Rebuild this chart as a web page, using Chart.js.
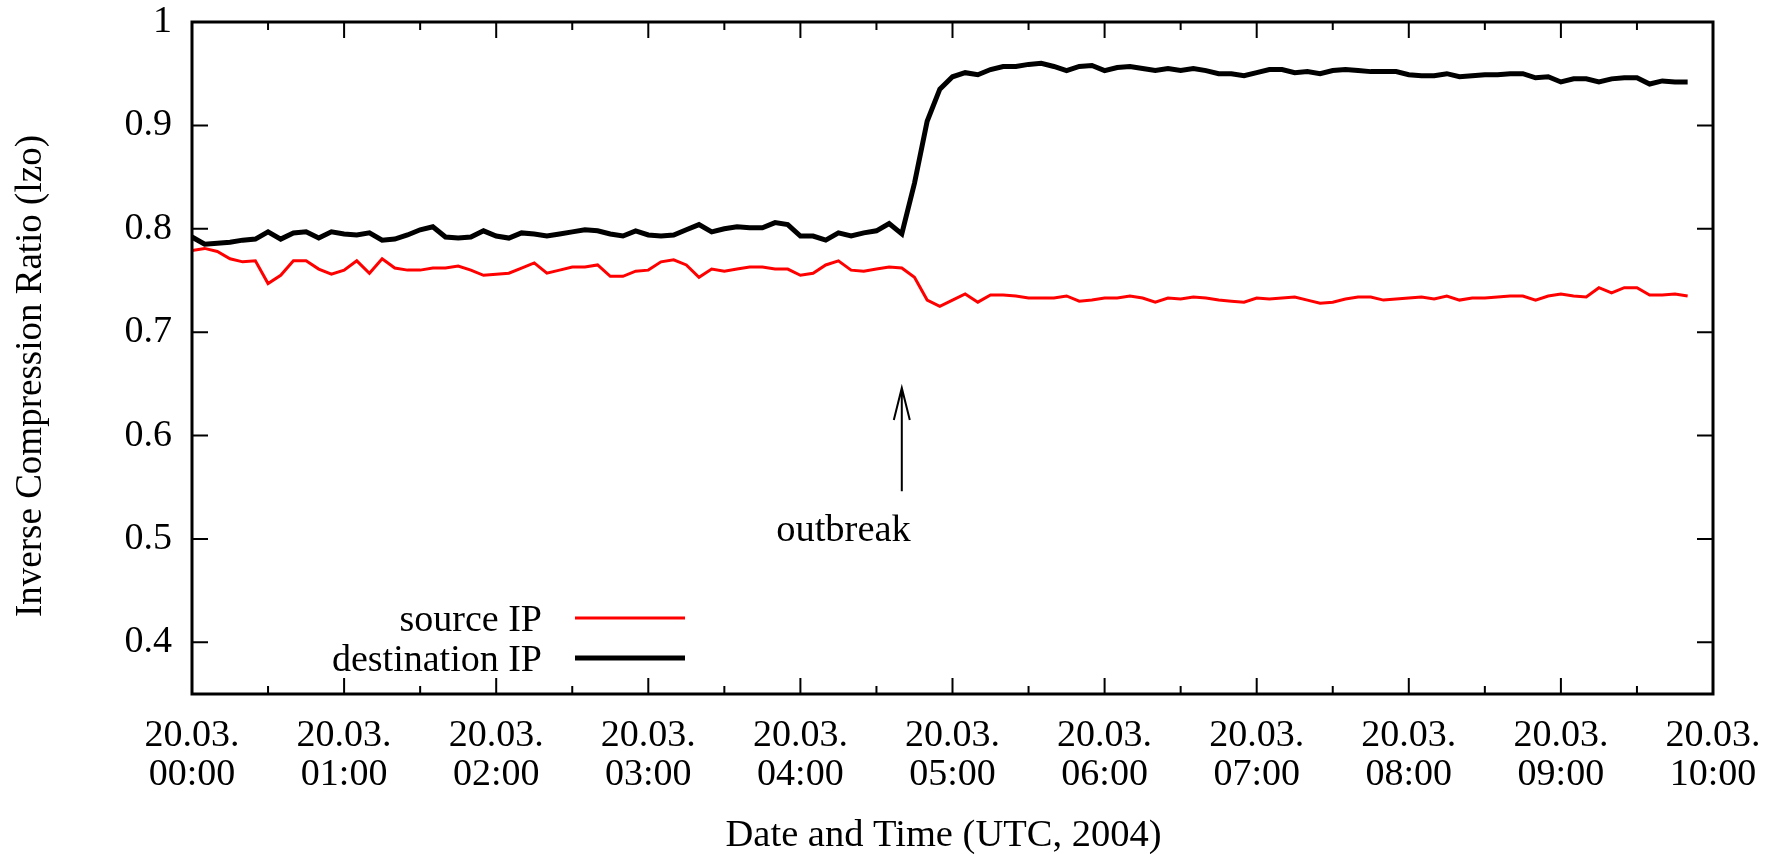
<!DOCTYPE html>
<html>
<head>
<meta charset="utf-8">
<script src="https://cdn.jsdelivr.net/npm/chart.js@4.4.0/dist/chart.umd.min.js"></script>
<style>
  html, body { margin: 0; padding: 0; background: #fff; }
</style>
</head>
<body>
<canvas id="ratioChart" width="1777" height="854"></canvas>
<script>
// samples every 5 minutes starting 20.03.2004 00:00 UTC
const sampleStepMin = 5;

const sourceIP = [
  0.779, 0.781, 0.778, 0.771, 0.768, 0.769, 0.747, 0.755, 0.769, 0.769,
  0.761, 0.756, 0.760, 0.769, 0.757, 0.771, 0.762, 0.760, 0.760, 0.762,
  0.762, 0.764, 0.760, 0.755, 0.756, 0.757, 0.762, 0.767, 0.757, 0.760,
  0.763, 0.763, 0.765, 0.754, 0.754, 0.759, 0.760, 0.768, 0.770, 0.765,
  0.753, 0.761, 0.759, 0.761, 0.763, 0.763, 0.761, 0.761, 0.755, 0.757,
  0.765, 0.769, 0.760, 0.759, 0.761, 0.763, 0.762, 0.753, 0.731, 0.725,
  0.731, 0.737, 0.729, 0.736, 0.736, 0.735, 0.733, 0.733, 0.733, 0.735,
  0.730, 0.731, 0.733, 0.733, 0.735, 0.733, 0.729, 0.733, 0.732, 0.734,
  0.733, 0.731, 0.730, 0.729, 0.733, 0.732, 0.733, 0.734, 0.731, 0.728,
  0.729, 0.732, 0.734, 0.734, 0.731, 0.732, 0.733, 0.734, 0.732, 0.735,
  0.731, 0.733, 0.733, 0.734, 0.735, 0.735, 0.731, 0.735, 0.737, 0.735,
  0.734, 0.743, 0.738, 0.743, 0.743, 0.736, 0.736, 0.737, 0.735
];

const destinationIP = [
  0.792, 0.785, 0.786, 0.787, 0.789, 0.790, 0.797, 0.790, 0.796, 0.797,
  0.791, 0.797, 0.795, 0.794, 0.796, 0.789, 0.790, 0.794, 0.799, 0.802,
  0.792, 0.791, 0.792, 0.798, 0.793, 0.791, 0.796, 0.795, 0.793, 0.795,
  0.797, 0.799, 0.798, 0.795, 0.793, 0.798, 0.794, 0.793, 0.794, 0.799,
  0.804, 0.797, 0.800, 0.802, 0.801, 0.801, 0.806, 0.804, 0.793, 0.793,
  0.789, 0.796, 0.793, 0.796, 0.798, 0.805, 0.795, 0.844, 0.904, 0.935,
  0.947, 0.951, 0.949, 0.954, 0.957, 0.957, 0.959, 0.960, 0.957, 0.953,
  0.957, 0.958, 0.953, 0.956, 0.957, 0.955, 0.953, 0.955, 0.953, 0.955,
  0.953, 0.950, 0.950, 0.948, 0.951, 0.954, 0.954, 0.951, 0.952, 0.950,
  0.953, 0.954, 0.953, 0.952, 0.952, 0.952, 0.949, 0.948, 0.948, 0.950,
  0.947, 0.948, 0.949, 0.949, 0.950, 0.950, 0.946, 0.947, 0.942, 0.945,
  0.945, 0.942, 0.945, 0.946, 0.946, 0.940, 0.943, 0.942, 0.942
];

// x axis in minutes since 00:00
const hourTicks = [0, 60, 120, 180, 240, 300, 360, 420, 480, 540, 600];
const hourLabels = ['00:00', '01:00', '02:00', '03:00', '04:00', '05:00',
                    '06:00', '07:00', '08:00', '09:00', '10:00'];
const halfHourTicks = [30, 90, 150, 210, 270, 330, 390, 450, 510, 570];
const yTicks = [0.4, 0.5, 0.6, 0.7, 0.8, 0.9, 1.0];
const yLabels = ['0.4', '0.5', '0.6', '0.7', '0.8', '0.9', '1'];

// outbreak marker
const outbreakAt = 280;
const arrowFrom = 0.546;
const arrowTo = 0.646;
const outbreakLabelX = 257;
const outbreakLabelY = 0.508;

const FONT = '"Liberation Serif", "Times New Roman", serif';
const X_TITLE = 'Date and Time (UTC, 2004)';
const Y_TITLE = 'Inverse Compression Ratio (lzo)';

function toPoints(values) {
  return values.map((v, i) => ({ x: i * sampleStepMin, y: v }));
}

const decorPlugin = {
  id: 'decor',
  afterDatasetsDraw(chart) {
    const { ctx, chartArea: a, scales } = chart;
    const xs = scales.x, ys = scales.y;
    ctx.save();
    ctx.strokeStyle = '#000';
    ctx.lineCap = 'butt';

    // gnuplot style inward ticks on all four sides
    ctx.lineWidth = 2;
    ctx.beginPath();
    hourTicks.forEach(h => {
      const px = xs.getPixelForValue(h);
      ctx.moveTo(px, a.bottom); ctx.lineTo(px, a.bottom - 16);
      ctx.moveTo(px, a.top); ctx.lineTo(px, a.top + 16);
    });
    halfHourTicks.forEach(h => {
      const px = xs.getPixelForValue(h);
      ctx.moveTo(px, a.bottom); ctx.lineTo(px, a.bottom - 8);
      ctx.moveTo(px, a.top); ctx.lineTo(px, a.top + 8);
    });
    yTicks.forEach(v => {
      const py = ys.getPixelForValue(v);
      ctx.moveTo(a.left, py); ctx.lineTo(a.left + 16, py);
      ctx.moveTo(a.right, py); ctx.lineTo(a.right - 16, py);
    });
    ctx.stroke();

    ctx.lineWidth = 3;
    ctx.strokeRect(a.left, a.top, a.right - a.left, a.bottom - a.top);

    // outbreak arrow
    const ax = xs.getPixelForValue(outbreakAt);
    const y0 = ys.getPixelForValue(arrowFrom);
    const y1 = ys.getPixelForValue(arrowTo);
    ctx.lineWidth = 2;
    ctx.beginPath();
    ctx.moveTo(ax, y0); ctx.lineTo(ax, y1);
    ctx.moveTo(ax - 8, y1 + 32); ctx.lineTo(ax, y1); ctx.lineTo(ax + 8, y1 + 32);
    ctx.stroke();

    ctx.fillStyle = '#000';
    ctx.font = '38.5px ' + FONT;
    ctx.textAlign = 'center';
    ctx.textBaseline = 'middle';
    ctx.fillText('outbreak', xs.getPixelForValue(outbreakLabelX), ys.getPixelForValue(outbreakLabelY));

    // key, bottom left inside the frame
    ctx.font = '38px ' + FONT;
    ctx.textAlign = 'right';
    ctx.textBaseline = 'alphabetic';
    chart.data.datasets.forEach((ds, i) => {
      const ly = a.bottom - 76 + i * 40;
      ctx.fillStyle = '#000';
      ctx.fillText(ds.label, a.left + 350, ly + 13);
      ctx.strokeStyle = ds.borderColor;
      ctx.lineWidth = ds.borderWidth;
      ctx.beginPath();
      ctx.moveTo(a.left + 383, ly); ctx.lineTo(a.left + 493, ly);
      ctx.stroke();
    });

    // axis titles, placed where gnuplot put them
    ctx.textAlign = 'center';
    ctx.textBaseline = 'middle';
    ctx.font = '38.5px ' + FONT;
    ctx.fillText(X_TITLE, (a.left + a.right) / 2 - 9, a.bottom + 142);

    ctx.save();
    ctx.translate(31, (a.top + a.bottom) / 2 + 18);
    ctx.rotate(-Math.PI / 2);
    ctx.font = '37px ' + FONT;
    ctx.fillText(Y_TITLE, 0, 0);
    ctx.restore();

    ctx.restore();
  }
};

new Chart(document.getElementById('ratioChart'), {
  type: 'line',
  data: {
    datasets: [
      {
        label: 'source IP',
        data: toPoints(sourceIP),
        borderColor: '#ff0000',
        borderWidth: 3,
        pointRadius: 0,
        tension: 0
      },
      {
        label: 'destination IP',
        data: toPoints(destinationIP),
        borderColor: '#000000',
        borderWidth: 5,
        pointRadius: 0,
        tension: 0
      }
    ]
  },
  options: {
    responsive: false,
    animation: false,
    layout: { padding: { top: 22, right: 64, bottom: 0, left: 0 } },
    plugins: {
      legend: { display: false },
      tooltip: { enabled: false }
    },
    scales: {
      x: {
        type: 'linear',
        min: 0,
        max: 600,
        afterBuildTicks: s => { s.ticks = hourTicks.map(v => ({ value: v })); },
        afterFit: s => { s.height = 160; s.paddingLeft = 0; s.paddingRight = 0; },
        grid: { display: false, drawTicks: false },
        border: { display: false },
        ticks: {
          autoSkip: false,
          maxRotation: 0,
          padding: 22,
          color: '#000',
          font: { family: FONT, size: 38, lineHeight: 1.03 },
          callback: v => ['20.03.', hourLabels[hourTicks.indexOf(v)]]
        }
      },
      y: {
        min: 0.35,
        max: 1.0,
        afterBuildTicks: s => { s.ticks = yTicks.map(v => ({ value: v })); },
        afterFit: s => { s.width = 192; s.paddingTop = 0; s.paddingBottom = 0; },
        grid: { display: false, drawTicks: false },
        border: { display: false },
        ticks: {
          padding: 20,
          color: '#000',
          font: { family: FONT, size: 38 },
          callback: v => yLabels[yTicks.indexOf(v)]
        }
      }
    }
  },
  plugins: [decorPlugin]
});
</script>
</body>
</html>
